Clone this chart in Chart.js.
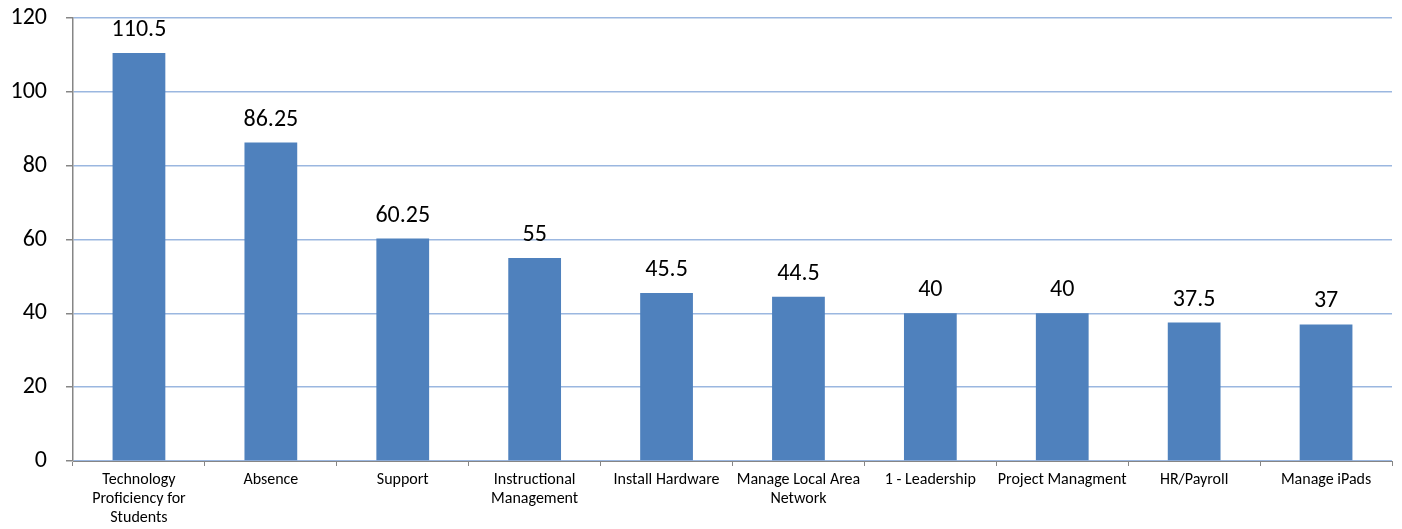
<!DOCTYPE html>
<html>
<head>
<meta charset="utf-8">
<script src="https://cdn.jsdelivr.net/npm/chart.js@4"></script>
<style>
  html, body { margin: 0; padding: 0; background: #fff; }
  #wrap { width: 1402px; height: 529px; }
</style>
</head>
<body>
<div id="wrap"><canvas id="chart" width="1402" height="529"></canvas></div>
<script>
var categories = [
  ["Technology", "Proficiency for", "Students"],
  "Absence",
  "Support",
  ["Instructional", "Management"],
  "Install Hardware",
  ["Manage Local Area", "Network"],
  "1 - Leadership",
  "Project Managment",
  "HR/Payroll",
  "Manage iPads"
];
var hours = [110.5, 86.25, 60.25, 55, 45.5, 44.5, 40, 40, 37.5, 37];
var yTicks = [0, 20, 40, 60, 80, 100, 120];

var FONT = "Carlito, Lato, 'Open Sans', sans-serif";
var AXIS = "#868686";

// value labels over each bar
var barLabels = {
  id: "barLabels",
  afterDatasetsDraw: function(chart) {
    var ctx = chart.ctx;
    var meta = chart.getDatasetMeta(0);
    ctx.save();
    ctx.font = "24px " + FONT;
    ctx.fillStyle = "#000";
    ctx.textAlign = "center";
    ctx.textBaseline = "middle";
    meta.data.forEach(function(bar, i) {
      ctx.fillText(String(hours[i]), bar.x, bar.y - 23);
    });
    ctx.restore();
  }
};

var ctx = document.getElementById("chart");
new Chart(ctx, {
  type: "bar",
  data: {
    labels: categories,
    datasets: [{
      data: hours,
      backgroundColor: "#4F81BD",
      barPercentage: 0.4,
      categoryPercentage: 1.0
    }]
  },
  options: {
    responsive: false,
    animation: false,
    layout: { padding: { top: 18, right: 10, left: 0, bottom: 0 } },
    plugins: { legend: { display: false }, tooltip: { enabled: false } },
    scales: {
      x: {
        grid: {
          offset: true,
          drawOnChartArea: false,
          drawTicks: true,
          tickLength: 5,
          tickColor: AXIS
        },
        border: { color: AXIS, width: 1 },
        ticks: {
          color: "#000",
          maxRotation: 0,
          autoSkip: false,
          padding: 4,
          font: { family: FONT, size: 16, lineHeight: 1.2 }
        },
        afterFit: function(s) {
          s.height = 68;
          s.paddingLeft = 0;
          s.paddingRight = 0;
        }
      },
      y: {
        min: 0,
        max: 120,
        afterBuildTicks: function(s) {
          s.ticks = yTicks.map(function(v) { return { value: v }; });
        },
        grid: {
          color: "#9BB7E0",
          lineWidth: 1.5,
          drawTicks: true,
          tickLength: 7,
          tickColor: AXIS
        },
        border: { color: AXIS, width: 1.5 },
        ticks: {
          color: "#000",
          padding: 19,
          font: { family: FONT, size: 24 }
        },
        afterFit: function(s) {
          s.width = 73;
          s.paddingTop = 0;
          s.paddingBottom = 0;
        }
      }
    }
  },
  plugins: [barLabels]
});
</script>
</body>
</html>
